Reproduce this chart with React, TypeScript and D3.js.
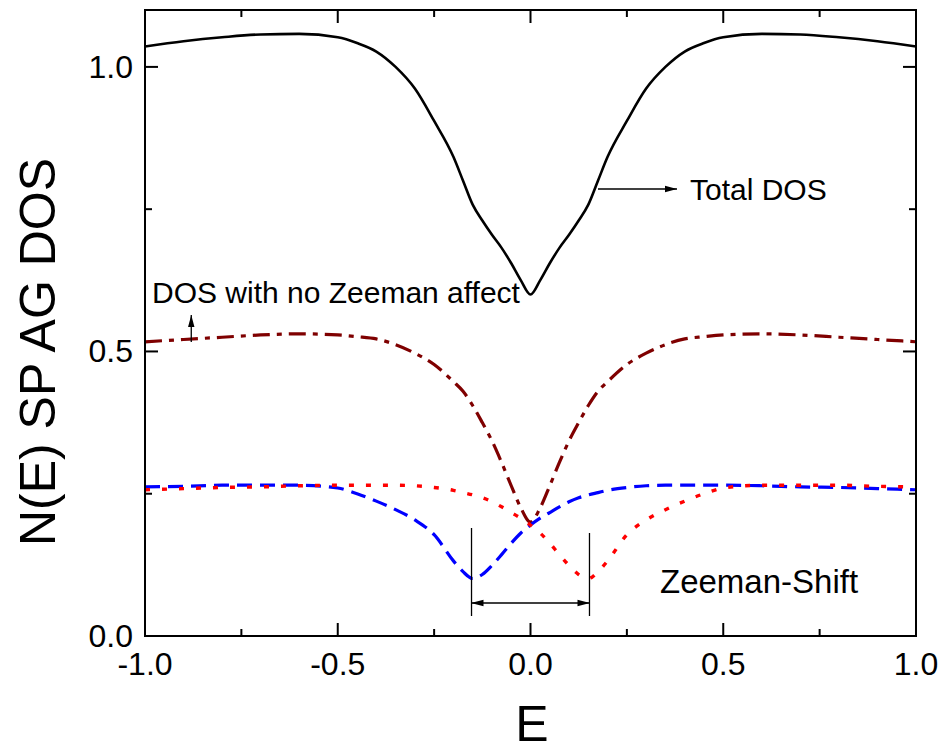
import React from "react";
import * as d3 from "d3";

// Energy grid shared by all curves
const energy = [
  -1.0, -0.9, -0.8, -0.7, -0.6, -0.5, -0.45, -0.4, -0.35, -0.3, -0.25, -0.2,
  -0.175, -0.15, -0.125, -0.1, -0.075, -0.05, -0.025, 0, 0.025, 0.05, 0.075,
  0.1, 0.125, 0.15, 0.175, 0.2, 0.25, 0.3, 0.35, 0.4, 0.45, 0.5, 0.6, 0.7, 0.8,
  0.9, 1.0,
];

// Total density of states
const totalDos = [
  1.036, 1.045, 1.052, 1.057, 1.058, 1.052, 1.042, 1.027, 1.0, 0.962, 0.905,
  0.842, 0.8, 0.758, 0.73, 0.705, 0.682, 0.655, 0.625, 0.6, 0.625, 0.655,
  0.682, 0.705, 0.73, 0.758, 0.8, 0.842, 0.905, 0.962, 1.0, 1.027, 1.042,
  1.052, 1.058, 1.057, 1.052, 1.045, 1.036,
];

// DOS without Zeeman splitting
const noZeemanDos = [
  0.517, 0.521, 0.525, 0.529, 0.531, 0.529, 0.526, 0.522, 0.512, 0.497, 0.477,
  0.447, 0.43, 0.405, 0.375, 0.343, 0.305, 0.264, 0.225, 0.2, 0.225, 0.264,
  0.305, 0.343, 0.375, 0.405, 0.43, 0.447, 0.477, 0.497, 0.512, 0.522, 0.526,
  0.529, 0.531, 0.529, 0.525, 0.521, 0.517,
];

// Spin-down branch (shifted to negative energy)
const spinDownDos = [
  0.262, 0.263, 0.265, 0.265, 0.265, 0.26, 0.25, 0.237, 0.222, 0.204, 0.178,
  0.132, 0.113, 0.101, 0.108, 0.124, 0.143, 0.163, 0.181, 0.195, 0.207,
  0.217, 0.227, 0.236, 0.243, 0.248, 0.252, 0.256, 0.261, 0.264, 0.265,
  0.265, 0.265, 0.265, 0.264, 0.262, 0.261, 0.259, 0.257,
];

// Spin-up branch (shifted to positive energy)
const spinUpDos = spinDownDos.slice().reverse();

const xTicksMajor = [-1.0, -0.5, 0.0, 0.5, 1.0];
const xTicksMinor = [-0.75, -0.25, 0.25, 0.75];
const yTicksMajor = [0.0, 0.5, 1.0];
const yTicksMinor = [0.25, 0.75];

const W = 946;
const H = 753;
const left = 145;
const right = 916;
const top = 10;
const bottom = 636;

const x = d3.scaleLinear().domain([-1, 1]).range([left, right]);
const y = d3.scaleLinear().domain([0, 1.1]).range([bottom, top]);

const line = d3
  .line<number>()
  .x((_, i) => x(energy[i]))
  .y((d) => y(d))
  .curve(d3.curveMonotoneX);

const font = "Arial, 'Liberation Sans', Helvetica, sans-serif";

export default function App() {
  const major = 13;
  const minor = 7;
  return (
    <svg
      width={W}
      height={H}
      viewBox={`0 0 ${W} ${H}`}
      style={{ position: "absolute", left: 0, top: 0, background: "#fff" }}
      fontFamily={font}
    >
      <defs>
        <marker
          id="head"
          viewBox="0 0 12 8"
          refX="12"
          refY="4"
          markerWidth="12"
          markerHeight="8"
          markerUnits="userSpaceOnUse"
          orient="auto-start-reverse"
        >
          <path d="M0,0.8 L12,4 L0,7.2 Z" fill="#000" />
        </marker>
      </defs>

      {/* curves */}
      <g fill="none">
        <path d={line(totalDos) ?? ""} stroke="#000" strokeWidth={2.6} />
        <path
          d={line(noZeemanDos) ?? ""}
          stroke="#7f0000"
          strokeWidth={3.2}
          strokeDasharray="17 7 5 7"
        />
        <path
          d={line(spinDownDos) ?? ""}
          stroke="#0000ff"
          strokeWidth={3.2}
          strokeDasharray="15 8"
        />
        <path
          d={line(spinUpDos) ?? ""}
          stroke="#ff0000"
          strokeWidth={3.4}
          strokeDasharray="5 12"
        />
      </g>

      {/* frame */}
      <rect
        x={left}
        y={top}
        width={right - left}
        height={bottom - top}
        fill="none"
        stroke="#000"
        strokeWidth={2}
      />

      {/* ticks */}
      <g stroke="#000" strokeWidth={2}>
        {xTicksMajor.map((t) => (
          <g key={`xM${t}`}>
            <line x1={x(t)} x2={x(t)} y1={bottom} y2={bottom - major} />
            <line x1={x(t)} x2={x(t)} y1={top} y2={top + major} />
          </g>
        ))}
        {xTicksMinor.map((t) => (
          <g key={`xm${t}`}>
            <line x1={x(t)} x2={x(t)} y1={bottom} y2={bottom - minor} />
            <line x1={x(t)} x2={x(t)} y1={top} y2={top + minor} />
          </g>
        ))}
        {yTicksMajor.map((t) => (
          <g key={`yM${t}`}>
            <line x1={left} x2={left + major} y1={y(t)} y2={y(t)} />
            <line x1={right} x2={right - major} y1={y(t)} y2={y(t)} />
          </g>
        ))}
        {yTicksMinor.map((t) => (
          <g key={`ym${t}`}>
            <line x1={left} x2={left + minor} y1={y(t)} y2={y(t)} />
            <line x1={right} x2={right - minor} y1={y(t)} y2={y(t)} />
          </g>
        ))}
      </g>

      {/* tick labels */}
      <g fontSize={32} fill="#000">
        {xTicksMajor.map((t) => (
          <text key={`xl${t}`} x={x(t)} y={675} textAnchor="middle">
            {t.toFixed(1)}
          </text>
        ))}
        {yTicksMajor.map((t) => (
          <text
            key={`yl${t}`}
            x={133}
            y={y(t) + 11}
            textAnchor="end"
          >
            {t.toFixed(1)}
          </text>
        ))}
      </g>

      {/* axis titles */}
      <text x={532} y={741} fontSize={50} textAnchor="middle">
        E
      </text>
      <text
        transform="translate(55,352) rotate(-90)"
        fontSize={50}
        textAnchor="middle"
      >
        N(E) SP AG DOS
      </text>

      {/* annotations */}
      <g stroke="#000" strokeWidth={1.3} fill="none">
        <line
          x1={x(0.175)}
          y1={189}
          x2={677}
          y2={189}
          markerEnd="url(#head)"
        />
        <line
          x1={x(-0.88)}
          y1={342}
          x2={x(-0.88)}
          y2={315}
          markerEnd="url(#head)"
        />
        <line x1={x(-0.153)} y1={528} x2={x(-0.153)} y2={616} />
        <line x1={x(0.153)} y1={533} x2={x(0.153)} y2={616} />
        <line
          x1={x(-0.153)}
          y1={603}
          x2={x(0.153)}
          y2={603}
          markerStart="url(#head)"
          markerEnd="url(#head)"
        />
      </g>
      <text x={690} y={200} fontSize={30}>
        Total DOS
      </text>
      <text x={152} y={303} fontSize={30}>
        DOS with no Zeeman affect
      </text>
      <text x={660} y={593} fontSize={33}>
        Zeeman-Shift
      </text>
    </svg>
  );
}
